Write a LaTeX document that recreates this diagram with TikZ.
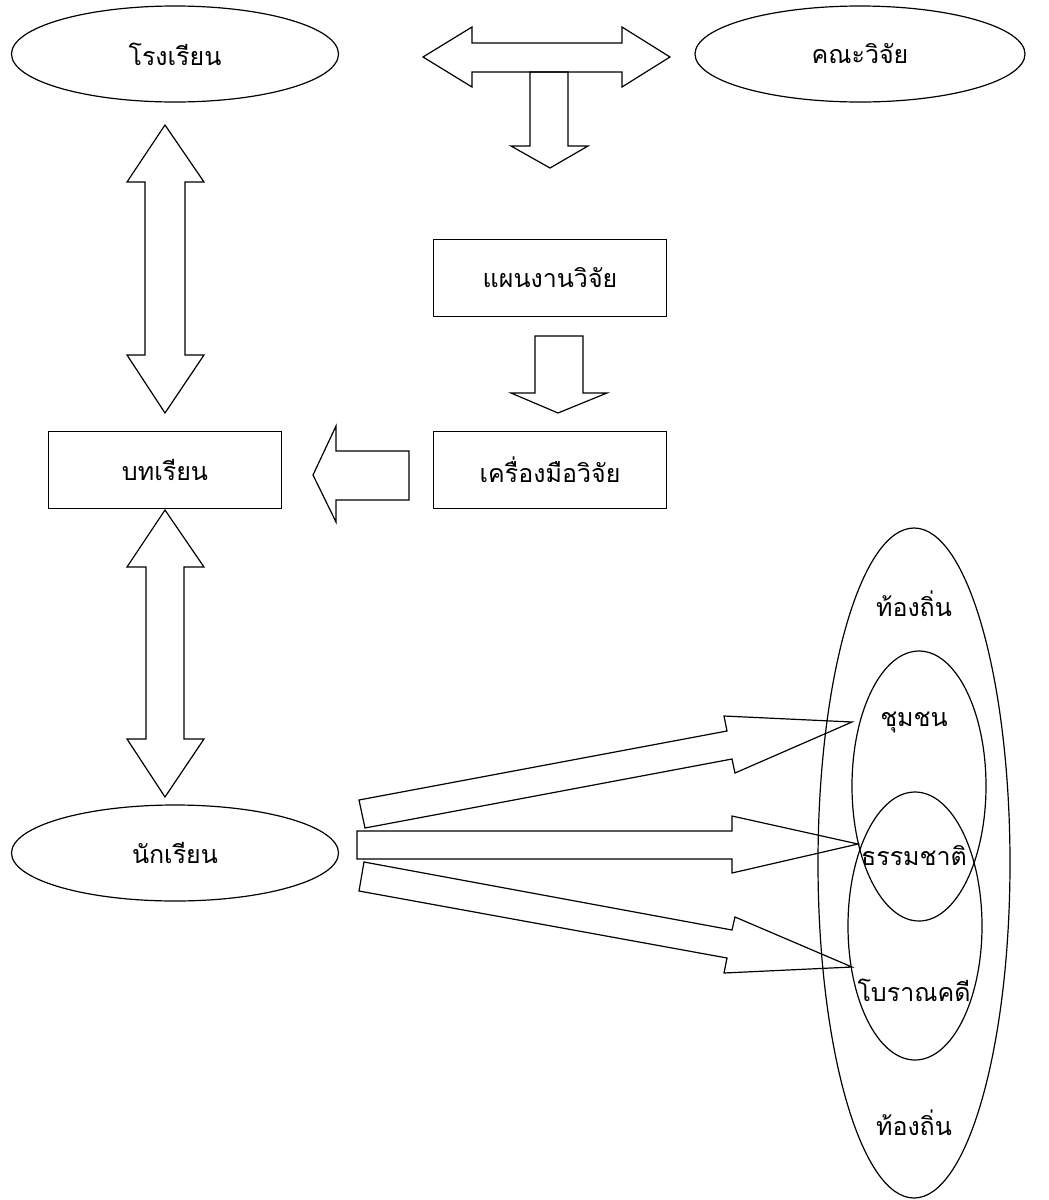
\documentclass[tikz,border=0pt]{standalone}
\usepackage{fontspec}
\newfontfamily\thaifont[Script=Thai]{Loma}
\usetikzlibrary{shapes.geometric}
\tikzset{
  thaitext/.style={font=\thaifont\fontsize{25}{30}\selectfont},
  lbl/.style={thaitext, inner sep=0pt},
  oval/.style={ellipse, draw, line width=1.2pt, inner sep=0pt, thaitext},
  boxnode/.style={rectangle, draw, line width=1.2pt, inner sep=0pt, minimum width=233pt, minimum height=77pt, thaitext},
  blockarrow/.style={draw, line width=1.2pt, line join=miter},
  ring/.style={draw, line width=1.2pt}
}
\begin{document}
\begin{tikzpicture}[x=1pt,y=-1pt]
\useasboundingbox (0,0) rectangle (1049,1200);
% ovals
\node[oval, minimum width=327pt, minimum height=96pt] (school) at (175,54) {โรงเรียน};
\node[oval, minimum width=330pt, minimum height=96pt] (team) at (860,54) {คณะวิจัย};
\node[oval, minimum width=327pt, minimum height=96pt] (student) at (175,853) {นักเรียน};
% boxes
\node[boxnode] (plan) at (550,278) {แผนงานวิจัย};
\node[boxnode] (tool) at (550,470) {เครื่องมือวิจัย};
\node[boxnode] (lesson) at (165,470) {บทเรียน};
% block arrows
\draw[blockarrow] (423,57) -- (472,27) -- (472,43) -- (622,43) -- (622,27) -- (670,57) -- (622,87) -- (622,72) -- (472,72) -- (472,87) -- cycle;
\draw[blockarrow] (530,72) -- (568,72) -- (568,146) -- (588,146) -- (550,168) -- (511,146) -- (530,146) -- cycle;
\draw[blockarrow] (535,336) -- (583,336) -- (583,393) -- (607,393) -- (558,413) -- (511,393) -- (535,393) -- cycle;
\draw[blockarrow] (313,475) -- (336,426) -- (336,451) -- (409,451) -- (409,500) -- (336,500) -- (336,522) -- cycle;
\draw[blockarrow] (165,125) -- (204,182) -- (185,182) -- (185,355) -- (204,355) -- (165,413) -- (127,355) -- (145,355) -- (145,182) -- (127,182) -- cycle;
\draw[blockarrow] (165,510) -- (204,567) -- (184,567) -- (184,739) -- (204,739) -- (165,797) -- (127,739) -- (146,739) -- (146,567) -- (127,567) -- cycle;
\draw[blockarrow] (359,800) -- (727,731) -- (724,716) -- (852,722) -- (735,773) -- (732,759) -- (365,828) -- cycle;
\draw[blockarrow] (357,831) -- (732,831) -- (732,816) -- (858,844) -- (732,873) -- (732,859) -- (357,859) -- cycle;
\draw[blockarrow] (364,862) -- (732,930) -- (735,917) -- (852,967) -- (724,973) -- (727,958) -- (359,891) -- cycle;
% nested ellipses
\draw[ring] (914,863) ellipse [x radius=96, y radius=335];
\draw[ring] (919,786) ellipse [x radius=67, y radius=135];
\draw[ring] (915,926) ellipse [x radius=67, y radius=134];
\node[lbl] (local1) at (914,604) {ท้องถิ่น};
\node[lbl] (community) at (914,722) {ชุมชน};
\node[lbl] (nature) at (914,856) {ธรรมชาติ};
\node[lbl] (archae) at (914,990) {โบราณคดี};
\node[lbl] (local2) at (914,1123) {ท้องถิ่น};
\end{tikzpicture}
\end{document}
